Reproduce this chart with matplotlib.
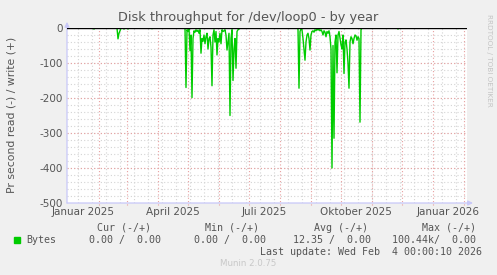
"""
Munin disk throughput (by year) - nachgebaut mit matplotlib.
"""
import datetime as dt

import matplotlib
matplotlib.use("Agg")
import matplotlib.pyplot as plt
import numpy as np

# --- Daten -----------------------------------------------------------------
start = dt.datetime(2024, 12, 31)
n_days = 400

# Tage (Offset ab start) mit Lesezugriffen und Werte (negativ = read)
read_day = [27, 51, 52, 53, 57, 61, 85,
            119, 120, 121, 123, 124, 125, 126, 127, 128, 129, 130, 131, 132, 133,
            134, 135, 136, 137, 138, 139, 140, 141, 142, 143, 144, 145, 146, 147,
            148, 149, 150, 151, 152, 153, 154, 155, 156, 157, 158, 159, 160, 161,
            162, 163, 164, 165, 166, 167, 168, 169, 170, 171, 172,
            231, 232, 233, 234, 235, 236, 237, 238, 239, 240, 241, 242, 243, 244,
            245, 246, 247, 248, 249, 250, 251, 252, 253, 254, 255, 256, 257, 258,
            259, 260, 261, 262, 263, 264, 265, 266, 267, 268, 269, 270, 271, 272,
            273, 274, 275, 276, 277, 278, 279, 280, 281, 282, 283, 284, 285, 286,
            287, 288, 289, 290, 291, 292, 293, 294, 331]
read_val = [-3, -31, -15, -8, -3, -3, -2,
            -170, -5, -10, -65, -20, -199, -30, -8, -12, -5, -10, -6, -15, -5,
            -72, -30, -38, -20, -45, -25, -15, -60, -30, -25, -55, -165, -20, -5,
            -40, -10, -77, -30, -40, -15, -45, -5, -10, -8, -5, -20, -63, -40,
            -15, -250, -30, -5, -150, -60, -30, -115, -10, -5, -3,
            -3, -172, -10, -3, -5, -30, -60, -92, -40, -20, -15, -30, -63, -20,
            -10, -8, -12, -5, -8, -3, -6, -4, -8, -5, -10, -20, -8, -12,
            -25, -10, -15, -8, -25, -60, -400, -50, -315, -40, -20, -128, -20,
            -10, -30, -48, -60, -20, -130, -40, -34, -60, -100, -172, -40, -25,
            -30, -45, -30, -20, -22, -35, -25, -30, -269, -5, -3]

month_labels = ["Januar 2025", "April 2025", "Juli 2025", "Oktober 2025", "Januar 2026"]
month_label_dates = [dt.datetime(2025, 1, 16), dt.datetime(2025, 4, 16),
                     dt.datetime(2025, 7, 16), dt.datetime(2025, 10, 16),
                     dt.datetime(2026, 1, 16)]

legend_head = ["Cur (-/+)", "Min (-/+)", "Avg (-/+)", "Max (-/+)"]
legend_vals = ["0.00 /  0.00", "0.00 /  0.00", "12.35 /  0.00", "100.44k/  0.00"]

# --- Aufbereitung ------------------------------------------------------------
days = [start + dt.timedelta(days=i) for i in range(n_days + 1)]
read = np.zeros(n_days + 1)
read[read_day] = read_val
end = days[-1]

BG = "#F0F0F0"
TXT = "#555555"
AXC = "#C8C8F8"
MGRID = "#E8A0A0"
GRID = "#D4D4D4"
GREEN = "#00CC00"

fig = plt.figure(figsize=(4.97, 2.75), dpi=100, facecolor=BG)
ax = fig.add_axes([67 / 497, 1 - 203 / 275, 400 / 497, 175 / 275])
ax.set_facecolor("white")
for s in ax.spines.values():
    s.set_visible(False)

ax.set_xlim(start, end)
ax.set_ylim(-500, 0)

# Gitter
minor_x = [dt.datetime(2025, 1, 11) + dt.timedelta(days=14 * k) for k in range(-1, 30)]
for d in minor_x:
    if start <= d <= end:
        ax.axvline(d, color=GRID, lw=0.8, ls=(0, (1, 2)), zorder=1)
for v in range(-480, 0, 20):
    ax.axhline(v, color=GRID, lw=0.8, ls=(0, (1, 2)), zorder=1)
months = [dt.datetime(2025 + (m // 12), m % 12 + 1, 1) for m in range(1, 14)]
for d in months:
    if start <= d <= end:
        ax.plot([d, d], [-505, 0], color=MGRID, lw=0.8, ls=(0, (1, 2)),
                zorder=2, clip_on=False)
for v in range(-400, 0, 100):
    ax.axhline(v, color=MGRID, lw=0.8, ls=(0, (1, 2)), zorder=2)

# Daten
ax.plot(days, read, color=GREEN, lw=1.0, zorder=4)
ax.axhline(0, color="black", lw=1.0, zorder=5)

# Achsen mit Pfeilen
ax.annotate("", xy=(1.015, 0), xytext=(0, 0), xycoords="axes fraction",
            arrowprops=dict(arrowstyle="-|>", color=AXC, lw=0.9,
                            mutation_scale=7, shrinkA=0, shrinkB=0))
ax.annotate("", xy=(0, 1.035), xytext=(0, 0), xycoords="axes fraction",
            arrowprops=dict(arrowstyle="-|>", color=AXC, lw=0.9,
                            mutation_scale=7, shrinkA=0, shrinkB=0))

ax.set_yticks(range(-500, 1, 100))
ax.set_yticklabels([str(v) for v in range(-500, 1, 100)])
ax.set_xticks(month_label_dates)
ax.set_xticklabels(month_labels)
ax.tick_params(length=0, colors=TXT, labelsize=7.5, pad=3)

# Texte
fig.text(0.5, 1 - 18 / 275, "Disk throughput for /dev/loop0 - by year",
         ha="center", va="center", fontsize=9.3, color=TXT)
fig.text(12 / 497, 1 - 115 / 275, "Pr second read (-) / write (+)",
         rotation=90, ha="center", va="center", fontsize=7.8, color=TXT)
fig.text(489 / 497, 1 - 60 / 275, "RRDTOOL / TOBI OETIKER", rotation=270,
         ha="center", va="center", fontsize=5.2, color="#C4C4C4")

mono = dict(family="DejaVu Sans Mono", fontsize=7.2, color=TXT, va="center")
head_right = [151, 259, 368, 476]
val_right = [161, 266, 371, 476]
for h, xr in zip(legend_head, head_right):
    fig.text(xr / 497, 1 - 228 / 275, h, ha="right", **mono)
for v, xr in zip(legend_vals, val_right):
    fig.text(xr / 497, 1 - 240 / 275, v, ha="right", **mono)
fig.text(26 / 497, 1 - 240 / 275, "Bytes", ha="left", **mono)
fig.patches.append(plt.Rectangle((14 / 497, 1 - 243 / 275), 6 / 497, 6 / 275,
                                 transform=fig.transFigure, color=GREEN))
fig.text(482 / 497, 1 - 252 / 275, "Last update: Wed Feb  4 00:00:10 2026",
         ha="right", **mono)
fig.text(0.5, 1 - 264 / 275, "Munin 2.0.75", ha="center", va="center",
         fontsize=6.2, color="#C8C8C8")

fig.savefig("out.png", dpi=100, facecolor=BG)
plt.close(fig)
